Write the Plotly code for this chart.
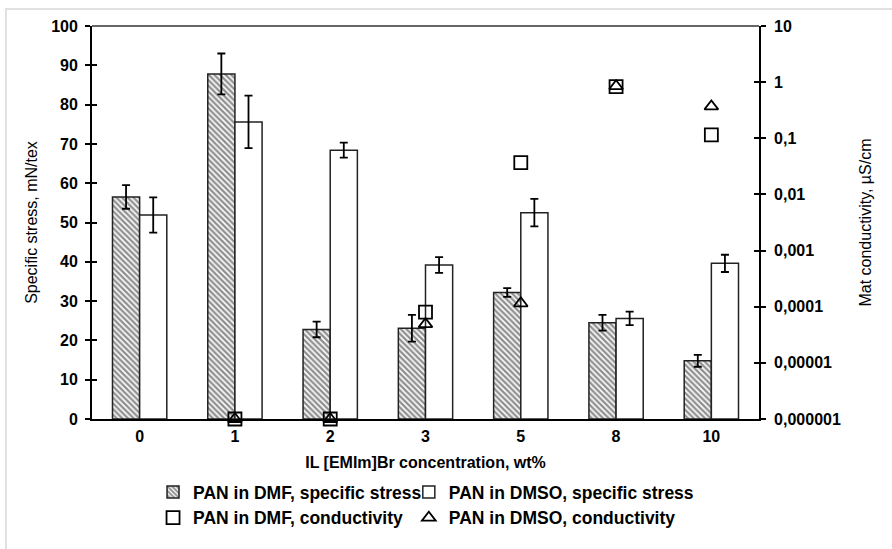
import plotly.graph_objects as go

categories = ["0", "1", "2", "3", "5", "8", "10"]
dmf_stress = [56.5, 87.8, 22.8, 23.1, 32.2, 24.5, 14.8]
dmf_stress_err = [3.0, 5.2, 2.0, 3.4, 1.1, 2.0, 1.5]
dmso_stress = [51.9, 75.6, 68.4, 39.2, 52.5, 25.6, 39.6]
dmso_stress_err = [4.5, 6.7, 1.9, 2.0, 3.5, 1.7, 2.2]
dmf_cond = [None, 1e-6, 1e-6, 8e-5, 0.037, 0.83, 0.115]
dmso_cond = [None, 1e-6, 1e-6, 4.9e-5, 1.15e-4, 0.85, 0.37]
left_ticks = [0, 10, 20, 30, 40, 50, 60, 70, 80, 90, 100]
right_tickvals = [1e-6, 1e-5, 1e-4, 1e-3, 1e-2, 1e-1, 1, 10]
right_ticktext = ["0,000001", "0,00001", "0,0001", "0,001", "0,01", "0,1", "1", "10"]

FONT = "Liberation Sans, Arial, sans-serif"

fig = go.Figure()
fig.add_trace(go.Bar(
    x=categories, y=dmf_stress, name="PAN in DMF, specific stress", legend="legend",
    marker=dict(color="white", line=dict(color="#222", width=1.5),
                pattern=dict(shape="\\", fgcolor="#222", bgcolor="white", size=4, solidity=0.6)),
    error_y=dict(type="data", array=dmf_stress_err, color="black", thickness=1.8, width=4),
))
fig.add_trace(go.Bar(
    x=categories, y=dmso_stress, name="PAN in DMSO, specific stress", legend="legend2",
    marker=dict(color="white", line=dict(color="#222", width=1.5)),
    error_y=dict(type="data", array=dmso_stress_err, color="black", thickness=1.8, width=4),
))
fig.add_trace(go.Scatter(
    x=categories, y=dmf_cond, name="PAN in DMF, conductivity", yaxis="y2", mode="markers",
    legend="legend",
    marker=dict(symbol="square-open", size=13, color="black", line=dict(width=1.8)),
    cliponaxis=False,
))
fig.add_trace(go.Scatter(
    x=categories, y=dmso_cond, name="PAN in DMSO, conductivity", yaxis="y2", mode="markers",
    legend="legend2",
    marker=dict(symbol="triangle-up-open", size=12, color="black", line=dict(width=1.8)),
    cliponaxis=False,
))
# helper traces for inside tick marks (crossing ticks)
fig.add_trace(go.Scatter(x=categories[:1], y=[None], yaxis="y3", showlegend=False, hoverinfo="skip"))
fig.add_trace(go.Scatter(x=categories[:1], y=[None], yaxis="y4", showlegend=False, hoverinfo="skip"))

tickfont = dict(family=FONT, size=16, color="black", weight="bold")
legfont = dict(family=FONT, size=17.5, color="black", weight="bold")
fig.update_layout(
    width=892, height=549,
    margin=dict(l=92, r=133, t=26, b=130, autoexpand=False),
    paper_bgcolor="white", plot_bgcolor="white",
    barmode="group", bargap=0.43, bargroupgap=0,
    font=dict(family=FONT, color="black"),
    xaxis=dict(
        type="category", showline=True, linecolor="black", linewidth=1.8,
        ticks="", tickfont=tickfont, mirror=False, ticklabelstandoff=2,
        title=dict(text="IL [EMIm]Br concentration, wt%", font=dict(family=FONT, size=16, weight="bold"), standoff=13),
    ),
    yaxis=dict(
        range=[0, 100], tickvals=left_ticks, showline=True, linecolor="black", linewidth=1.8,
        ticks="outside", ticklen=5, tickwidth=1.8, tickcolor="black", showgrid=False, zeroline=False,
        tickfont=tickfont, ticklabelstandoff=4,
        title=dict(text="Specific stress, mN/tex", font=dict(family=FONT, size=16), standoff=10),
    ),
    yaxis2=dict(
        type="log", range=[-6, 1], overlaying="y", side="right", tickvals=right_tickvals,
        ticktext=right_ticktext, showline=True, linecolor="black", linewidth=1.8,
        ticks="outside", ticklen=5, tickwidth=1.8, tickcolor="black", showgrid=False, zeroline=False,
        tickfont=tickfont, ticklabelstandoff=5,
        title=dict(text="Mat conductivity, µS/cm", font=dict(family=FONT, size=16), standoff=20),
    ),
    yaxis3=dict(range=[0, 100], tickvals=left_ticks, overlaying="y", side="left", ticks="inside",
                ticklen=5, tickwidth=1.8, tickcolor="black", showticklabels=False, showgrid=False,
                zeroline=False, showline=False),
    yaxis4=dict(type="log", range=[-6, 1], tickvals=right_tickvals, overlaying="y", side="right",
                ticks="inside", ticklen=5, tickwidth=1.8, tickcolor="black", showticklabels=False,
                showgrid=False, zeroline=False, showline=False),
    legend=dict(
        orientation="v", x=0.0915, xanchor="left", y=-0.14, yanchor="top",
        font=legfont, itemwidth=30, tracegroupgap=0, bgcolor="rgba(0,0,0,0)",
    ),
    legend2=dict(
        orientation="v", x=0.475, xanchor="left", y=-0.14, yanchor="top",
        font=legfont, itemwidth=30, tracegroupgap=0, bgcolor="rgba(0,0,0,0)",
    ),
    shapes=[
        dict(type="line", xref="paper", yref="paper", x0=0, x1=1, y0=1, y1=1,
             line=dict(color="#333", width=1.5)),
        dict(type="rect", xref="paper", yref="paper", x0=-0.129, x1=1.3, y0=-0.5, y1=1.0433,
             line=dict(color="#d8d8d8", width=1.5), layer="below"),
    ],
)

fig.write_html("out.html")
